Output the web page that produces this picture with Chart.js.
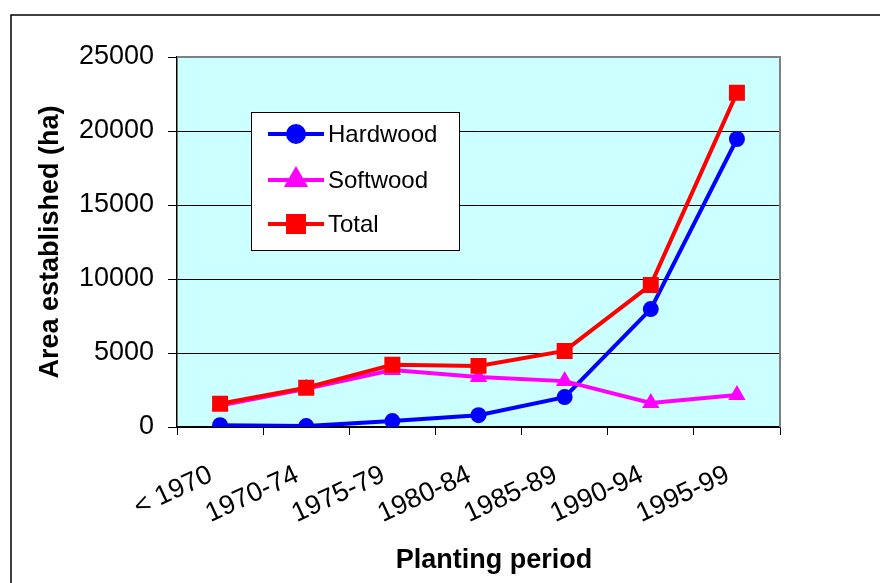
<!DOCTYPE html>
<html>
<head>
<meta charset="utf-8">
<script src="https://cdn.jsdelivr.net/npm/chart.js@4/dist/chart.umd.min.js"></script>
<style>
  html, body { margin: 0; padding: 0; background: #ffffff; }
  #wrap { width: 880px; height: 583px; position: relative; }
</style>
</head>
<body>
<div id="wrap"><canvas id="c" width="880" height="583"></canvas></div>
<script>
// Planting periods and area established per period (ha)
const periods  = ['< 1970', '1970-74', '1975-79', '1980-84', '1985-89', '1990-94', '1995-99'];
const hardwood = [120, 60, 400, 800, 2020, 7970, 19460];
const softwood = [1450, 2580, 3850, 3380, 3100, 1620, 2170];
const total    = [1570, 2650, 4200, 4130, 5140, 9600, 22580];
const yTicks   = [0, 5000, 10000, 15000, 20000, 25000];

const FONT = "'Liberation Sans', Arial, Helvetica, sans-serif";

// Cyan plot background, grey frame on top/right, outer page frame
const framePlugin = {
  id: 'frame',
  beforeDraw(chart) {
    const { ctx, chartArea: a } = chart;
    ctx.save();
    ctx.fillStyle = '#ffffff';
    ctx.fillRect(0, 0, chart.width, chart.height);
    ctx.strokeStyle = '#000000';
    ctx.lineWidth = 1.5;
    ctx.beginPath();
    ctx.moveTo(11, chart.height);
    ctx.lineTo(11, 15);
    ctx.lineTo(chart.width, 15);
    ctx.stroke();
    ctx.fillStyle = '#CCFFFF';
    ctx.fillRect(a.left, a.top, a.right - a.left, a.bottom - a.top);
    ctx.restore();
  },
  beforeDatasetsDraw(chart) {
    const { ctx, chartArea: a } = chart;
    ctx.save();
    ctx.strokeStyle = '#808080';
    ctx.lineWidth = 2;
    ctx.beginPath();
    ctx.moveTo(a.left, a.top);
    ctx.lineTo(a.right, a.top);
    ctx.lineTo(a.right, a.bottom);
    ctx.stroke();
    ctx.restore();
  }
};

// Boxed legend inside the plot: line sample with marker, then label
const legendBox = {
  id: 'legendBox',
  afterDatasetsDraw(chart) {
    const { ctx } = chart;
    const box = { x: 251, y: 112, w: 208, h: 138 };
    ctx.save();
    ctx.fillStyle = '#ffffff';
    ctx.fillRect(box.x, box.y, box.w, box.h);
    ctx.strokeStyle = '#000000';
    ctx.lineWidth = 1;
    ctx.strokeRect(box.x + 0.5, box.y + 0.5, box.w, box.h);
    const rows = [134, 180, 224];
    chart.data.datasets.forEach((ds, i) => {
      const y = rows[i];
      ctx.strokeStyle = ds.borderColor;
      ctx.lineWidth = ds.borderWidth;
      ctx.beginPath();
      ctx.moveTo(268, y);
      ctx.lineTo(324, y);
      ctx.stroke();
      Chart.helpers.drawPoint(ctx, {
        pointStyle: ds.pointStyle,
        radius: ds.pointRadius,
        borderWidth: 1
      }, 296, y);
      ctx.fillStyle = ds.borderColor;
      ctx.fill();
      ctx.fillStyle = '#000000';
      ctx.font = '24px ' + FONT;
      ctx.textAlign = 'left';
      ctx.textBaseline = 'middle';
      ctx.fillText(ds.label, 328, y + 1);
    });
    ctx.restore();
  },
  afterDraw(chart) {
    const { ctx } = chart;
    ctx.save();
    ctx.fillStyle = '#000000';
    ctx.font = 'bold 27px ' + FONT;
    ctx.textAlign = 'center';
    ctx.textBaseline = 'middle';
    ctx.fillText('Planting period', 494, 561);
    ctx.restore();
  }
};

new Chart(document.getElementById('c'), {
  type: 'line',
  data: {
    labels: periods,
    datasets: [
      {
        label: 'Hardwood', data: hardwood, order: 3,
        borderColor: '#0000FF', backgroundColor: '#0000FF',
        borderWidth: 4, pointStyle: 'circle', pointRadius: 8,
        pointBorderWidth: 0, tension: 0
      },
      {
        label: 'Softwood', data: softwood, order: 2,
        borderColor: '#FF00FF', backgroundColor: '#FF00FF',
        borderWidth: 4, pointStyle: 'triangle', pointRadius: 10,
        pointBorderWidth: 0, tension: 0
      },
      {
        label: 'Total', data: total, order: 1,
        borderColor: '#FF0000', backgroundColor: '#FF0000',
        borderWidth: 4, pointStyle: 'rect', pointRadius: 11.3,
        pointBorderWidth: 0, tension: 0
      }
    ]
  },
  options: {
    responsive: false,
    animation: false,
    devicePixelRatio: 1,
    layout: { padding: { top: 57, right: 100, left: 0, bottom: 0 } },
    plugins: { legend: { display: false }, tooltip: { enabled: false } },
    scales: {
      x: {
        offset: true,
        afterFit(s) { s.height = 156; },
        grid: { offset: true, drawOnChartArea: false, drawTicks: true, tickLength: 8, color: '#000000', lineWidth: 1 },
        border: { display: true, color: '#000000', width: 1.5 },
        ticks: {
          color: '#000000', font: { family: FONT, size: 27 },
          minRotation: 25, maxRotation: 25, padding: 24, labelOffset: -9, autoSkip: false
        }
      },
      y: {
        min: yTicks[0], max: yTicks[yTicks.length - 1],
        afterFit(s) { s.width = 177; },
        afterBuildTicks(s) { s.ticks = yTicks.map(v => ({ value: v })); },
        grid: { color: '#000000', lineWidth: 1, tickLength: 9 },
        border: { display: true, color: '#000000', width: 1.5 },
        ticks: {
          color: '#000000', font: { family: FONT, size: 27 }, padding: 14,
          callback: v => String(v)
        },
        title: {
          display: true, text: 'Area established (ha)', color: '#000000',
          font: { family: FONT, size: 27, weight: 'bold' },
          padding: { top: 34, bottom: 0 }
        }
      }
    }
  },
  plugins: [framePlugin, legendBox]
});
</script>
</body>
</html>
